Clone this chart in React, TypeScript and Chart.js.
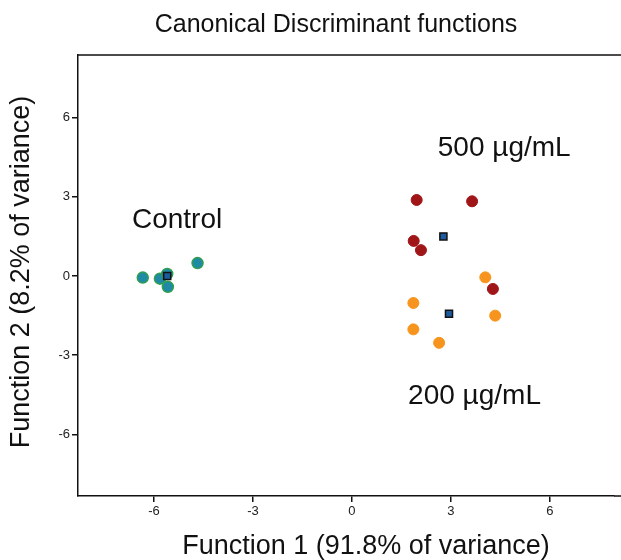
import React, { useEffect, useRef } from "react";
import { Chart, registerables } from "chart.js";

Chart.register(...registerables);

const chartTitle = "Canonical Discriminant functions";
const xAxisTitle = "Function 1 (91.8% of variance)";
const yAxisTitle = "Function 2 (8.2% of variance)";

const xTicks = [-6, -3, 0, 3, 6];
const yTicks = [-6, -3, 0, 3, 6];

const controlX = [-6.34, -5.82, -5.6, -5.58, -4.68];
const controlY = [-0.06, -0.1, 0.08, -0.41, 0.49];

const dose500X = [1.96, 3.64, 1.87, 2.09, 4.27];
const dose500Y = [2.88, 2.83, 1.33, 0.98, -0.49];

const dose200X = [4.04, 1.86, 4.34, 1.86, 2.64];
const dose200Y = [-0.05, -1.02, -1.5, -2.02, -2.53];

const centroidX = [-5.6, 2.77, 2.94];
const centroidY = [0.0, 1.5, -1.43];

const groupLabels = ["Control", "500 µg/mL", "200 µg/mL"];
const labelX = [-5.3, 2.6, 1.7];
const labelY = [2.12, 4.85, -4.55];
const labelAlign: CanvasTextAlign[] = ["center", "left", "left"];

const toPoints = (xs: number[], ys: number[]) => xs.map((x, i) => ({ x, y: ys[i] }));

const FONT = "'Liberation Sans', Arial, sans-serif";

const decorPlugin = {
  id: "decor",
  afterDraw(chart: any) {
    const { ctx, chartArea, scales } = chart;
    ctx.save();
    // top frame line and bottom axis continuation to canvas edge
    ctx.strokeStyle = "#111";
    ctx.lineWidth = 1.5;
    ctx.beginPath();
    ctx.moveTo(chartArea.left, chartArea.top);
    ctx.lineTo(chart.width, chartArea.top);
    ctx.moveTo(chartArea.right, chartArea.bottom);
    ctx.lineTo(chart.width, chartArea.bottom);
    ctx.stroke();

    ctx.fillStyle = "#111";
    // title
    ctx.font = `25px ${FONT}`;
    ctx.textAlign = "center";
    ctx.textBaseline = "middle";
    ctx.fillText(chartTitle, 336, 25);

    // x axis title
    ctx.font = `27px ${FONT}`;
    ctx.fillText(xAxisTitle, 366, 547);

    // y axis title
    ctx.save();
    ctx.translate(22, 272);
    ctx.rotate(-Math.PI / 2);
    ctx.fillText(yAxisTitle, 0, 0);
    ctx.restore();

    // group annotations
    ctx.font = `28px ${FONT}`;
    groupLabels.forEach((t, i) => {
      ctx.textAlign = labelAlign[i];
      ctx.fillText(t, scales.x.getPixelForValue(labelX[i]), scales.y.getPixelForValue(labelY[i]));
    });
    ctx.restore();
  },
};

export default function App() {
  const ref = useRef<HTMLCanvasElement>(null);
  useEffect(() => {
    if (!ref.current) return;
    const chart = new Chart(ref.current, {
      type: "scatter",
      data: {
        datasets: [
          {
            label: "Centroids",
            data: toPoints(centroidX, centroidY),
            pointStyle: "rect",
            pointRadius: 5,
            backgroundColor: "#1d5b9e",
            borderColor: "#111",
            borderWidth: 1.5,
          },
          {
            label: "Control",
            data: toPoints(controlX, controlY),
            pointRadius: 5.5,
            backgroundColor: "#1f8aa6",
            borderColor: "#2f9e4f",
            borderWidth: 1.5,
          },
          {
            label: "500 µg/mL",
            data: toPoints(dose500X, dose500Y),
            pointRadius: 5.5,
            backgroundColor: "#a01518",
            borderColor: "#a01518",
            borderWidth: 1,
          },
          {
            label: "200 µg/mL",
            data: toPoints(dose200X, dose200Y),
            pointRadius: 5.5,
            backgroundColor: "#f7941d",
            borderColor: "#f7941d",
            borderWidth: 1,
          },
        ],
      },
      options: {
        responsive: false,
        animation: false,
        layout: { padding: { top: 55, left: 0, right: 0, bottom: 0 } },
        plugins: {
          legend: { display: false },
          tooltip: { enabled: false },
          title: { display: false },
        },
        scales: {
          x: {
            type: "linear",
            min: -8.303,
            max: 7.94,
            afterBuildTicks: (s: any) => {
              s.ticks = xTicks.map((v) => ({ value: v }));
            },
            afterFit: (s: any) => {
              s.height = 64;
            },
            ticks: {
              color: "#222",
              font: { family: FONT, size: 13 },
              padding: 2,
            },
            grid: {
              drawOnChartArea: false,
              drawTicks: true,
              tickLength: 6,
              color: "#111",
              lineWidth: 1.5,
            },
            border: { display: true, color: "#111", width: 1.5 },
          },
          y: {
            type: "linear",
            min: -8.33,
            max: 8.37,
            afterBuildTicks: (s: any) => {
              s.ticks = yTicks.map((v) => ({ value: v }));
            },
            afterFit: (s: any) => {
              s.width = 78;
            },
            ticks: {
              color: "#222",
              font: { family: FONT, size: 13 },
              padding: 2,
            },
            grid: {
              drawOnChartArea: false,
              drawTicks: true,
              tickLength: 6,
              color: "#111",
              lineWidth: 1.5,
            },
            border: { display: true, color: "#111", width: 1.5 },
          },
        },
      },
      plugins: [decorPlugin],
    });
    return () => chart.destroy();
  }, []);
  return (
    <div style={{ position: "fixed", left: 0, top: 0, width: 621, height: 560, background: "#fff" }}>
      <canvas ref={ref} width={621} height={560} />
    </div>
  );
}
